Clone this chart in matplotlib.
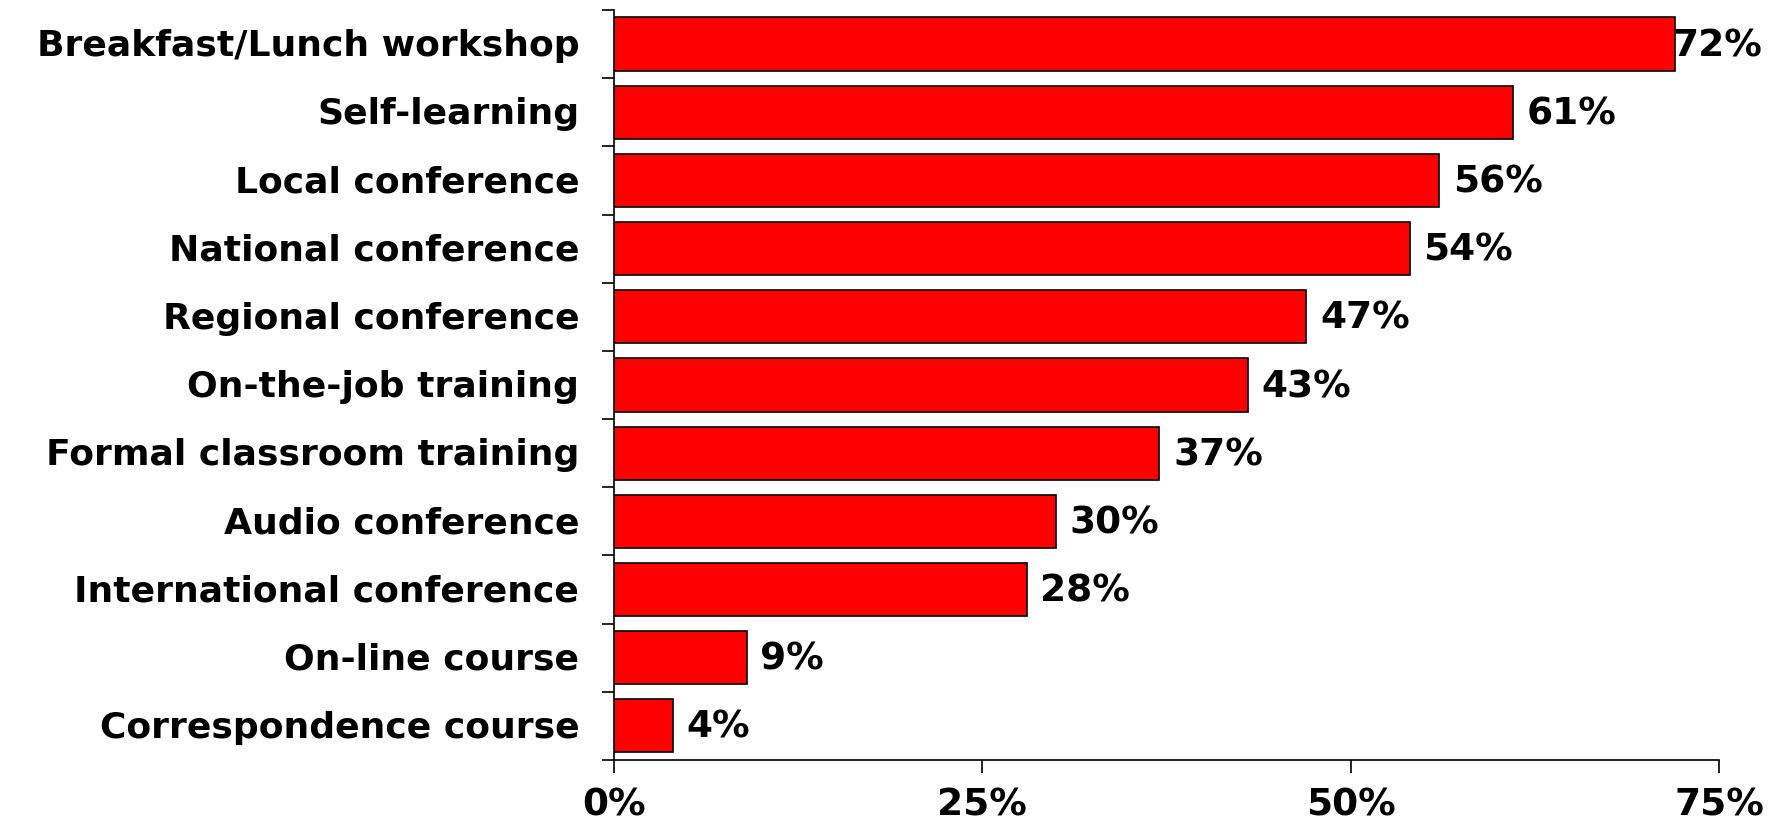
import matplotlib
matplotlib.use("Agg")
import matplotlib.pyplot as plt
from matplotlib.ticker import FixedLocator, NullFormatter

categories = [
    "Breakfast/Lunch workshop",
    "Self-learning",
    "Local conference",
    "National conference",
    "Regional conference",
    "On-the-job training",
    "Formal classroom training",
    "Audio conference",
    "International conference",
    "On-line course",
    "Correspondence course",
]
values = [72, 61, 56, 54, 47, 43, 37, 30, 28, 9, 4]
xticks = [0, 25, 50, 75]
xtick_labels = ["0%", "25%", "50%", "75%"]

plt.rcParams["font.family"] = ["DejaVu Sans"]
FS_CAT = 26
FS_NUM = 27

fig = plt.figure(figsize=(17.9, 8.33), dpi=100)
ax = fig.add_axes([614 / 1790, 1 - 760 / 833, (1719 - 614) / 1790, 750 / 833])

n = len(categories)
ypos = list(range(n))
ax.barh(ypos, values, height=0.78, color="#ff0000", edgecolor="black", linewidth=1.2)

ax.set_xlim(0, 75)
ax.set_ylim(n - 0.5, -0.5)

# category labels centred on bars, tick marks at the boundaries between bars
ax.yaxis.set_major_locator(FixedLocator([i - 0.5 for i in range(n + 1)]))
ax.yaxis.set_major_formatter(NullFormatter())
for i, name in enumerate(categories):
    ax.annotate(name, xy=(0, i), xycoords=("axes fraction", "data"),
                xytext=(-25, -1.5), textcoords="offset points",
                ha="right", va="center", fontsize=FS_CAT, fontweight="bold")

ax.set_xticks(xticks)
ax.set_xticklabels(xtick_labels, fontsize=FS_NUM, fontweight="bold")

ax.tick_params(axis="y", direction="out", length=9, width=1.2)
ax.tick_params(axis="x", direction="out", length=9, width=1.2, pad=11)

for side in ("top", "right"):
    ax.spines[side].set_visible(False)
for side in ("left", "bottom"):
    ax.spines[side].set_linewidth(1.2)

for i, v in enumerate(values):
    off = -2 if v >= 70 else 10
    ax.annotate(f"{v}%", xy=(v, i), xytext=(off, -1.5), textcoords="offset points",
                ha="left", va="center", fontsize=FS_NUM, fontweight="bold",
                annotation_clip=False)

fig.savefig("out.png", dpi=100)
